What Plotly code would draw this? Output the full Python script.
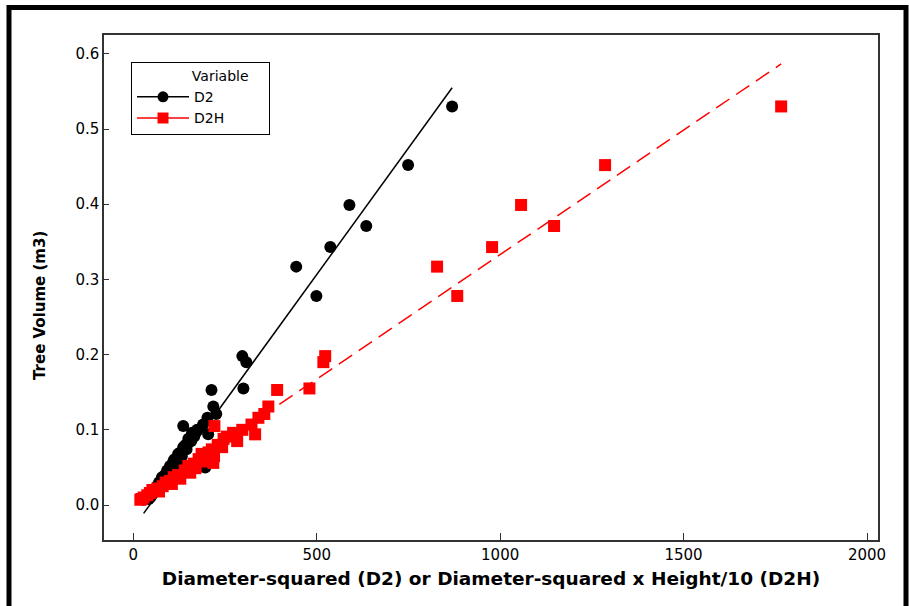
import numpy as np
import plotly.graph_objects as go

# Tree data: volume (m3), D2, D2H
volume = [0.530, 0.452, 0.399, 0.371, 0.343, 0.317, 0.278, 0.198, 0.190, 0.155,
          0.153, 0.131, 0.121, 0.116, 0.107, 0.105, 0.100, 0.094, 0.096, 0.091,
          0.088, 0.085, 0.080, 0.077, 0.074, 0.070, 0.068, 0.065, 0.061, 0.058,
          0.056, 0.055, 0.052, 0.050, 0.049, 0.046, 0.043, 0.040, 0.037, 0.035,
          0.032, 0.030, 0.028, 0.025, 0.022, 0.020, 0.018, 0.016, 0.013, 0.010,
          0.008, 0.007]
d2 = [869, 749, 589, 635, 537, 444, 499, 297, 308, 300,
      213, 218, 226, 202, 190, 136, 174, 204, 160, 166,
      150, 158, 142, 136, 145, 128, 122, 132, 112, 109,
      120, 118, 100, 196, 104, 92, 96, 86, 78, 82,
      74, 70, 76, 64, 62, 58, 60, 54, 50, 46,
      42, 28]
d2h = [1766, 1286, 1057, 1147, 978, 828, 883, 523, 518, 480,
       392, 368, 357, 341, 322, 221, 297, 332, 272, 255,
       246, 283, 230, 242, 214, 205, 186, 220, 178, 190,
       218, 165, 150, 170, 168, 140, 155, 122, 110, 128,
       100, 88, 105, 80, 66, 52, 70, 45, 38, 28,
       22, 19]

series_names = ["D2", "D2H"]
series_colors = ["black", "#ff0000"]
series_symbols = ["circle", "square"]
# fitted regression lines: volume = intercept + slope * x
fit_slope = [0.000673, 0.000331]
fit_intercept = [-0.030, 0.002]

x_ticks = [0, 500, 1000, 1500, 2000]
y_ticks = [0.0, 0.1, 0.2, 0.3, 0.4, 0.5, 0.6]

FONT = "DejaVu Sans"

fig = go.Figure()
xs = [d2, d2h]
dashes = ["solid", "16px,8px"]
for name, x, col, sym, s, b, dash in zip(series_names, xs, series_colors, series_symbols,
                                         fit_slope, fit_intercept, dashes):
    xa = np.array(x, dtype=float)
    lx = np.array([xa.min(), xa.max()])
    ly = b + s * lx
    fig.add_trace(go.Scatter(x=x, y=volume, mode="markers", showlegend=False,
                             marker=dict(color=col, symbol=sym, size=12, line=dict(width=0)),
                             hoverinfo="x+y"))
    fig.add_trace(go.Scatter(x=lx, y=ly, mode="lines", showlegend=False,
                             line=dict(color=col, width=1.5, dash=dash)))
for name, col, sym in zip(series_names, series_colors, series_symbols):
    fig.add_trace(go.Scatter(x=[None], y=[None], mode="lines+markers", name=name,
                             line=dict(color=col, width=1.5),
                             marker=dict(color=col, symbol=sym, size=11)))

W, H = 909, 606
L, R, T, B = 104, 31, 35, 66
pw, ph = W - L - R, H - T - B

def px_x(p):
    return (p - L) / pw

def px_y(p):
    return (H - B - p) / ph

fig.add_shape(type="rect", xref="paper", yref="paper",
              x0=px_x(9), x1=px_x(906), y0=px_y(640), y1=px_y(7.5),
              line=dict(color="black", width=5), fillcolor="rgba(0,0,0,0)", layer="above")

fig.add_annotation(text="<b>Tree Volume (m3)</b>", xref="paper", yref="paper",
                   x=px_x(40), y=px_y(306), xanchor="center", yanchor="middle",
                   textangle=-90, showarrow=False,
                   font=dict(family=FONT, size=15, color="black"))

fig.update_layout(
    width=W, height=H,
    margin=dict(l=L, r=R, t=T, b=B),
    paper_bgcolor="white", plot_bgcolor="white",
    font=dict(family=FONT, color="black", size=15),
    legend=dict(
        x=px_x(131), y=px_y(62), xanchor="left", yanchor="top",
        bgcolor="white", bordercolor="black", borderwidth=1,
        font=dict(family=FONT, size=14, color="black"),
        title=dict(text="&nbsp;" * 13 + "Variable" + "&nbsp;" * 4,
                   font=dict(family=FONT, size=14, color="black")),
        itemwidth=52, tracegroupgap=0,
    ),
    xaxis=dict(
        range=[-80, 2030], tickvals=x_ticks, ticktext=[str(v) for v in x_ticks],
        ticks="inside", ticklen=7, tickwidth=1, tickcolor="#333",
        showline=True, mirror=True, linecolor="#333", linewidth=1.5,
        showgrid=False, zeroline=False,
        tickfont=dict(family=FONT, size=15),
        title=dict(text="<b>Diameter-squared (D2) or Diameter-squared x Height/10 (D2H)</b>",
                   font=dict(family=FONT, size=18.5), standoff=9),
    ),
    yaxis=dict(
        range=[-0.0465, 0.625], tickvals=y_ticks, ticktext=[f"{v:.1f}" for v in y_ticks],
        ticks="inside", ticklen=5, tickwidth=1, tickcolor="#333",
        showline=True, mirror=True, linecolor="#333", linewidth=1.5,
        showgrid=False, zeroline=False,
        tickfont=dict(family=FONT, size=15),
    ),
)

fig.write_html("out.html")
